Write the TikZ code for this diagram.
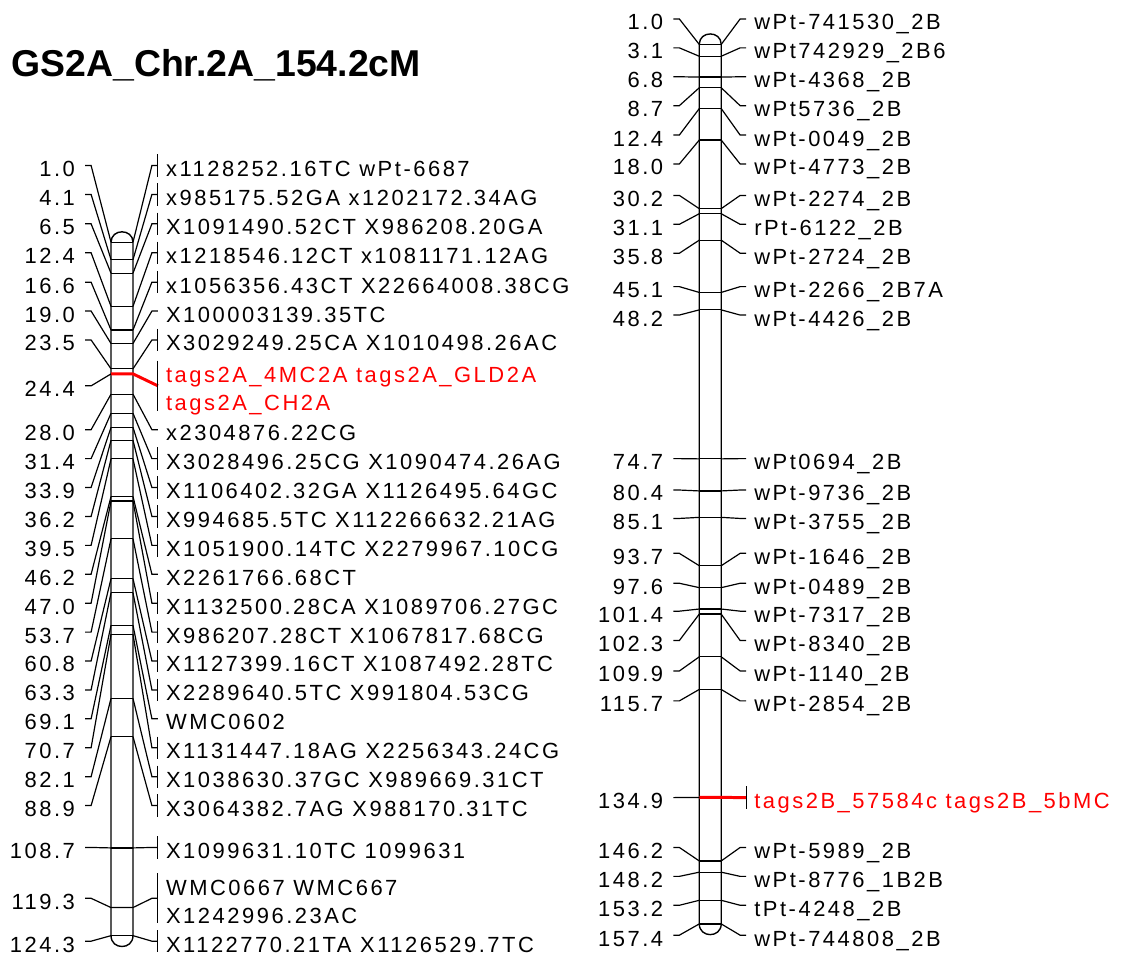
\documentclass[tikz,border=0pt]{standalone}
\usepackage{fontspec}
\setmainfont{Liberation Sans}[LetterSpace=11.5]
\newfontfamily\titlefont{Liberation Sans}
\usetikzlibrary{calc}

\tikzset{
  chrom/.style={line width=1.4pt},
  band/.style={inner sep=0pt, outer sep=0pt, minimum width=22pt, minimum height=0pt},
  link/.style={line width=1.2pt},
  tagline/.style={red, line width=3pt, line join=round},
  cmlabel/.style={anchor=east, inner xsep=10pt, inner ysep=0pt, text height=22pt, text depth=0pt,
    font=\fontsize{22}{26}\selectfont},
  mklabel/.style={cmlabel, anchor=west, inner xsep=8pt},
}

\begin{document}
\begin{tikzpicture}[x=1pt, y=-1pt]
  \fill[white] (0,0) rectangle (1122,963);
  \node[anchor=base west, inner sep=0pt, font=\titlefont\fontsize{37.5}{44}\selectfont\bfseries] (title) at (8,77) {GS2A\_Chr.2A\_154.2cM};

  % chromosome 2A
  \draw[chrom] (108,243) -- (108,938.5) .. controls (108,953) and (130,953) .. (130,938.5)
    -- (130,243) .. controls (130,229) and (108,229) .. (108,243) -- cycle;
  \foreach \pos/\yl/\txt/\tk [count=\i] in {
      1.0/166/{x1128252.16TC wPt-6687}/1, 4.1/195/{x985175.52GA x1202172.34AG}/1,
      6.5/224.5/{X1091490.52CT X986208.20GA}/1, 12.4/253.5/{x1218546.12CT x1081171.12AG}/1,
      16.6/283/{x1056356.43CT X22664008.38CG}/1, 19.0/312/{X100003139.35TC}/0,
      23.5/341/{X3029249.25CA X1010498.26AC}/1, 28.0/431/{x2304876.22CG}/0,
      31.4/460/{X3028496.25CG X1090474.26AG}/1, 33.9/489/{X1106402.32GA X1126495.64GC}/1,
      36.2/518/{X994685.5TC X112266632.21AG}/1, 39.5/547/{X1051900.14TC X2279967.10CG}/1,
      46.2/576/{X2261766.68CT}/0, 47.0/605/{X1132500.28CA X1089706.27GC}/1,
      53.7/634/{X986207.28CT X1067817.68CG}/1, 60.8/663/{X1127399.16CT X1087492.28TC}/1,
      63.3/692/{X2289640.5TC X991804.53CG}/1, 69.1/721/{WMC0602}/0,
      70.7/750/{X1131447.18AG X2256343.24CG}/1, 82.1/779/{X1038630.37GC X989669.31CT}/1,
      88.9/808/{X3064382.7AG X988170.31TC}/1, 108.7/850/{X1099631.10TC 1099631}/1,
      124.3/944/{X1122770.21TA X1126529.7TC}/1}{
    \pgfmathsetmacro\yb{237.4+5.64*\pos}
    \node[band] (L\i) at (119,\yb) {};
    \node[cmlabel] (Lc\i) at (82,\yl) {\pos};
    \node[mklabel] (Lm\i) at (155,\yl) {\txt};
    \draw[link] (L\i.west) -- (L\i.east);
    \draw[link] (Lc\i.east) -- ++(6,0) -- (L\i.west);
    \draw[link] (L\i.east) -- ([xshift=-6pt]Lm\i.west) -- (Lm\i.west);
    \ifnum\tk=1 \draw[link] (Lm\i.north west) -- (Lm\i.south west); \fi
  }
  \node[band] (L24) at (119,375) {};
  \node[cmlabel] (Lc24) at (82,387) {24.4};
  \node[mklabel, red] (Lm24a) at (155,373) {tags2A\_4MC2A tags2A\_GLD2A};
  \node[mklabel, red] (Lm24b) at (155,401) {tags2A\_CH2A};
  \draw[tagline] (L24.west) -- (L24.east) -- ($(Lm24a.west)!.5!(Lm24b.west)$);
  \draw[link] (Lc24.east) -- ++(6,0) -- (L24.west);
  \draw[link] (Lm24a.north west) -- (Lm24b.south west);
  \node[band] (L119) at (119,910.3) {};
  \node[cmlabel] (Lc119) at (82,901) {119.3};
  \node[mklabel] (Lm119a) at (155,887) {WMC0667 WMC667};
  \node[mklabel] (Lm119b) at (155,915) {X1242996.23AC};
  \draw[link] (L119.west) -- (L119.east) -- ([xshift=-6pt]$(Lm119a.west)!.5!(Lm119b.west)$)
    -- ($(Lm119a.west)!.5!(Lm119b.west)$);
  \draw[link] (Lc119.east) -- ++(6,0) -- (L119.west);
  \draw[link] (Lm119a.north west) -- (Lm119b.south west);

  % chromosome 2B
  \draw[chrom] (698,44.6) -- (698,926.7) .. controls (698,941) and (720,941) .. (720,926.7)
    -- (720,44.6) .. controls (720,30.5) and (698,30.5) .. (698,44.6) -- cycle;
  \foreach \pos/\yl/\txt [count=\i] in {
      1.0/19/{wPt-741530\_2B}, 3.1/48/{wPt742929\_2B6}, 6.8/77/{wPt-4368\_2B},
      8.7/106/{wPt5736\_2B}, 12.4/135.5/{wPt-0049\_2B}, 18.0/164.5/{wPt-4773\_2B},
      30.2/196/{wPt-2274\_2B}, 31.1/225/{rPt-6122\_2B}, 35.8/254/{wPt-2724\_2B},
      45.1/287.5/{wPt-2266\_2B7A}, 48.2/316/{wPt-4426\_2B}, 74.7/460/{wPt0694\_2B},
      80.4/491.5/{wPt-9736\_2B}, 85.1/520/{wPt-3755\_2B}, 93.7/555/{wPt-1646\_2B},
      97.6/585/{wPt-0489\_2B}, 101.4/613/{wPt-7317\_2B}, 102.3/642.5/{wPt-8340\_2B},
      109.9/673/{wPt-1140\_2B}, 115.7/703/{wPt-2854\_2B}, 146.2/850/{wPt-5989\_2B},
      148.2/879/{wPt-8776\_1B2B}, 153.2/908/{tPt-4248\_2B}, 157.4/938/{wPt-744808\_2B}}{
    \pgfmathsetmacro\yb{38.95+5.64*\pos}
    \node[band] (R\i) at (709,\yb) {};
    \node[cmlabel] (Rc\i) at (672,\yl) {\pos};
    \node[mklabel] (Rm\i) at (745,\yl) {\txt};
    \draw[link] (R\i.west) -- (R\i.east);
    \draw[link] (Rc\i.east) -- ++(6,0) -- (R\i.west);
    \draw[link] (R\i.east) -- ([xshift=-6pt]Rm\i.west) -- (Rm\i.west);
  }
  \node[band] (R135) at (709,799.8) {};
  \node[cmlabel] (Rc135) at (672,800) {134.9};
  \node[mklabel, red] (Rm135) at (745,800) {tags2B\_57584c tags2B\_5bMC};
  \draw[tagline] (R135.west) -- (R135.east) -- (Rm135.west);
  \draw[link] (Rc135.east) -- (R135.west);
  \draw[link] (Rm135.north west) -- (Rm135.south west);
\end{tikzpicture}
\end{document}
